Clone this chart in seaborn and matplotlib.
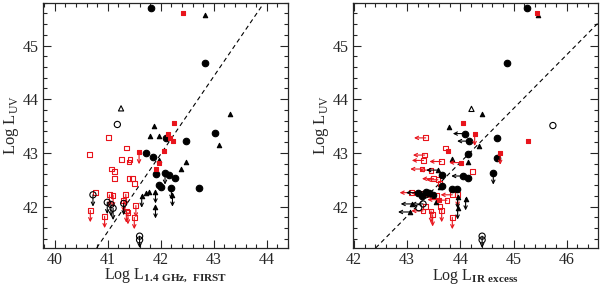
import numpy as np
import pandas as pd
import seaborn as sns
from matplotlib import pyplot as plt
from matplotlib.ticker import MultipleLocator

# ---- left panel: Log L(1.4 GHz) vs Log L(UV) ----
# black filled circles
L_BC_X = [41.82, 42.84, 43.02, 42.47, 42.09, 41.73, 41.85, 41.91, 42.08, 42.16, 42.26, 41.97, 42.01, 42.20, 42.72]
L_BC_Y = [45.70, 44.67, 43.38, 43.23, 43.28, 42.99, 42.92, 42.60, 42.63, 42.59, 42.54, 42.40, 42.36, 42.35, 42.35]
L_BC_LIM = ['', '', '', '', '', '', '', '', 'd', '', '', '', '', 'd', '']
# black filled triangles
L_BT_X = [42.83, 43.30, 41.87, 41.79, 41.97, 43.09, 42.47, 42.39, 41.96, 41.72, 41.78, 41.90, 41.90, 42.22, 41.64]
L_BT_Y = [45.56, 43.72, 43.50, 43.32, 43.32, 43.15, 42.84, 42.70, 42.86, 42.26, 42.27, 42.28, 42.00, 42.22, 42.20]
L_BT_LIM = ['', '', '', '', '', '', '', '', '', '', '', 'd', 'd', 'd', 'd']
# black open circles
L_OC_X = [41.18, 40.72, 40.99, 41.06, 41.10, 41.30, 41.60, 41.60]
L_OC_Y = [43.53, 42.22, 42.08, 42.04, 41.97, 42.06, 41.45, 41.38]
L_OC_LIM = ['', 'd', 'd', 'd', 'd', 'd', 'd', 'd']
# black open triangles
L_OT_X = [41.25]
L_OT_Y = [43.83]
L_OT_LIM = ['']
# red filled squares
L_RS_X = [42.42, 42.25, 42.13, 42.17, 42.23, 42.06, 41.97, 41.91, 41.59]
L_RS_Y = [45.60, 43.56, 43.36, 43.27, 43.22, 43.04, 42.81, 42.70, 43.01]
L_RS_LIM = ['', '', '', '', '', '', '', '', 'd']
# red open squares
L_RO_X = [41.02, 40.65, 41.35, 41.26, 41.42, 41.40, 41.07, 41.13, 41.13, 41.40, 41.47, 41.51, 40.77,
          41.03, 41.10, 41.34, 41.30, 41.35, 41.38, 41.53, 41.50, 40.67, 40.94]
L_RO_Y = [43.28, 42.97, 43.09, 42.87, 42.87, 42.83, 42.70, 42.66, 42.52, 42.53, 42.53, 42.43, 42.26,
          42.22, 42.21, 42.23, 42.12, 41.92, 41.89, 42.02, 41.80, 41.93, 41.82]
L_RO_LIM = [''] * 13 + ['d'] * 10
L_LINE_X = [40.79, 43.95]
L_LINE_Y = [41.23, 45.80]

# ---- right panel: Log L(IR excess) vs Log L(UV) ----
R_BC_X = [45.25, 44.88, 44.08, 44.16, 44.69, 44.14, 44.69, 44.05, 44.14, 44.62, 43.66, 43.66, 43.85, 43.93,
          43.20, 43.35, 43.48, 43.28, 43.42]
R_BC_Y = [45.70, 44.67, 43.36, 43.22, 43.28, 42.98, 42.91, 42.57, 42.54, 42.63, 42.58, 42.38, 42.33, 42.33,
          42.26, 42.27, 42.22, 42.20, 42.25]
R_BC_LIM = ['', '', 'l', 'l', '', '', '', 'l', '', 'd', '', '', '', '', 'l', '', '', '', 'l']
R_BT_X = [45.46, 44.41, 43.78, 44.36, 43.85, 44.15, 43.58, 43.62, 43.95, 44.10, 43.10, 43.05, 43.55, 43.95]
R_BT_Y = [45.56, 43.72, 43.48, 43.12, 42.88, 42.83, 42.68, 42.36, 42.18, 42.15, 42.05, 41.90, 42.08, 41.98]
R_BT_LIM = ['', '', '', '', '', '', 'l', '', 'd', 'd', 'l', 'l', '', 'd']
R_OC_X = [45.74, 44.41, 44.41, 43.30, 43.22, 43.35]
R_OC_Y = [43.51, 41.45, 41.38, 42.05, 41.98, 42.22]
R_OC_LIM = ['', 'd', 'd', 'l', '', '']
R_OT_X = [44.21]
R_OT_Y = [43.82]
R_OT_LIM = ['']
R_RS_X = [45.44, 44.05, 44.27, 45.27, 44.75, 43.76, 44.01, 43.60]
R_RS_Y = [45.61, 43.55, 43.35, 43.22, 43.00, 43.03, 42.82, 42.13]
R_RS_LIM = ['', '', 'd', '', 'd', '', 'l', 'l']
R_RO_X = [43.72, 44.23, 43.35, 43.33, 43.31, 43.28, 43.64, 43.45, 43.50, 43.58, 43.62, 43.08, 43.30, 43.55,
          43.75, 43.95, 43.62, 43.45, 43.30, 43.65, 43.85, 43.48, 43.35, 43.85]
R_RO_Y = [43.09, 42.65, 43.28, 42.96, 42.86, 42.70, 42.84, 42.68, 42.52, 42.50, 42.43, 42.26, 42.25, 42.20,
          42.12, 42.22, 42.00, 41.92, 41.92, 41.93, 41.80, 41.85, 42.00, 42.22]
R_RO_LIM = ['', '', 'l', 'l', 'l', 'l', 'l', 'l', 'l', 'l', '', 'l', 'l', 'l',
            'l', 'd', '', 'd', 'l', 'd', 'd', 'd', '', 'l']
R_LINE_X = [42.41, 46.58]
R_LINE_Y = [41.23, 45.41]

RED = '#e8141c'

sns.set_style('ticks')
plt.rcParams['font.family'] = ['Liberation Serif', 'DejaVu Serif']
plt.rcParams['mathtext.fontset'] = 'custom'
plt.rcParams['mathtext.rm'] = 'Liberation Serif'
plt.rcParams['mathtext.bf'] = 'Liberation Serif:bold'

# marker styles: (marker, size, face, edge)
STYLES = {
    'BC': ('o', 22, 'black', 'black'),
    'BT': ('^', 10, 'black', 'black'),
    'OC': ('o', 20, 'none', 'black'),
    'OT': ('^', 14, 'none', 'black'),
    'RS': ('s', 10, RED, RED),
    'RO': ('s', 12, 'none', RED),
}


def draw_group(ax, xs, ys, lims, key):
    marker, s, fc, ec = STYLES[key]
    df = pd.DataFrame({'x': xs, 'y': ys})
    sns.scatterplot(data=df, x='x', y='y', marker=marker, s=s, facecolors=fc,
                    edgecolors=ec, linewidth=0.8, ax=ax, zorder=3, legend=False)
    col = ec
    for x, y, lim in zip(xs, ys, lims):
        if lim == 'd':
            ax.annotate('', xy=(x, y - 0.22), xytext=(x, y),
                        arrowprops=dict(arrowstyle='->', color=col, lw=0.8,
                                        shrinkA=0, shrinkB=0, mutation_scale=6))
        elif lim == 'l':
            ax.annotate('', xy=(x - 0.22, y), xytext=(x, y),
                        arrowprops=dict(arrowstyle='->', color=col, lw=0.8,
                                        shrinkA=0, shrinkB=0, mutation_scale=6))


def style_axes(ax, xlim, xlabel):
    ax.set_xlim(*xlim)
    ax.set_ylim(41.23, 45.8)
    ax.xaxis.set_major_locator(MultipleLocator(1))
    ax.xaxis.set_minor_locator(MultipleLocator(0.2))
    ax.yaxis.set_major_locator(MultipleLocator(1))
    ax.yaxis.set_minor_locator(MultipleLocator(0.2))
    ax.tick_params(which='both', direction='in', top=True, right=True, labelsize=11.5, width=0.8)
    ax.tick_params(which='major', length=6, pad=3)
    ax.tick_params(which='minor', length=3)
    for sp in ax.spines.values():
        sp.set_linewidth(0.9)
    ax.set_xlabel(xlabel, fontsize=11.5, labelpad=-1)
    ax.set_ylabel(r'Log L$_{\rm UV}$', fontsize=12, labelpad=1)


fig = plt.figure(figsize=(6, 2.86), dpi=100)
ax1 = fig.add_axes([0.071, 0.133, 0.409, 0.858])
ax2 = fig.add_axes([0.588, 0.133, 0.408, 0.858])

draw_group(ax1, L_RO_X, L_RO_Y, L_RO_LIM, 'RO')
draw_group(ax1, L_OC_X, L_OC_Y, L_OC_LIM, 'OC')
draw_group(ax1, L_OT_X, L_OT_Y, L_OT_LIM, 'OT')
draw_group(ax1, L_BT_X, L_BT_Y, L_BT_LIM, 'BT')
draw_group(ax1, L_BC_X, L_BC_Y, L_BC_LIM, 'BC')
draw_group(ax1, L_RS_X, L_RS_Y, L_RS_LIM, 'RS')
ax1.plot(L_LINE_X, L_LINE_Y, ls=(0, (4, 3)), color='black', lw=0.8)
style_axes(ax1, (39.77, 44.4), r'Log L$_{\bf 1.4\ GHz,\ FIRST}$')

draw_group(ax2, R_RO_X, R_RO_Y, R_RO_LIM, 'RO')
draw_group(ax2, R_OC_X, R_OC_Y, R_OC_LIM, 'OC')
draw_group(ax2, R_OT_X, R_OT_Y, R_OT_LIM, 'OT')
draw_group(ax2, R_BT_X, R_BT_Y, R_BT_LIM, 'BT')
draw_group(ax2, R_BC_X, R_BC_Y, R_BC_LIM, 'BC')
draw_group(ax2, R_RS_X, R_RS_Y, R_RS_LIM, 'RS')
ax2.plot(R_LINE_X, R_LINE_Y, ls=(0, (4, 3)), color='black', lw=0.8)
style_axes(ax2, (41.98, 46.58), r'Log L$_{\bf IR\ excess}$')

fig.savefig('out.png', dpi=100)
